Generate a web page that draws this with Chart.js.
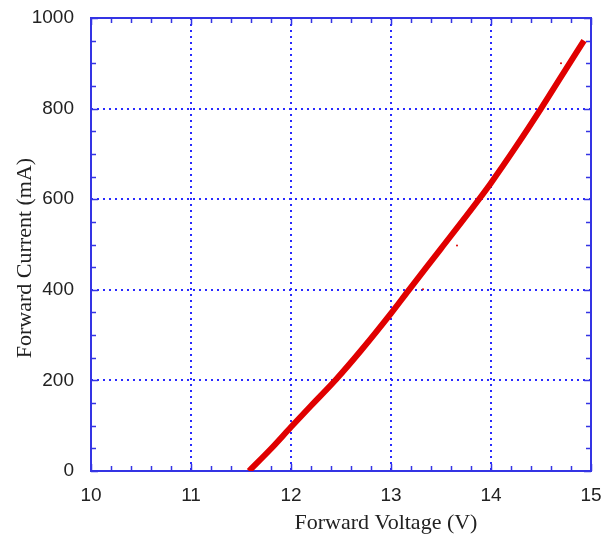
<!DOCTYPE html>
<html lang="en">
<head>
    <meta charset="UTF-8">
    <title>Forward Current vs Forward Voltage</title>
    <script src="https://cdn.jsdelivr.net/npm/chart.js"></script>
    <style>
        body { margin: 0; background: #fff; }
        canvas { display: block; }
    </style>
</head>
<body>
    <canvas id="ivChart" width="613" height="540"></canvas>

    <script>
        // values
        const voltage = [11.58, 11.8, 12.0, 12.2, 12.45, 12.7, 13.0, 13.18, 13.5, 13.88, 14.0, 14.25, 14.5, 14.7, 14.93];
        const current = [0, 49, 97, 144, 202, 266, 348, 400, 491, 600, 636, 716, 800, 870, 950];
        const strayVoltage = [13.32, 13.66, 14.70];
        const strayCurrent = [401, 498, 900];

        const xTitle = 'Forward Voltage (V)';
        const yTitle = 'Forward Current (mA)';

        const blue = '#3434e4';
        const gridBlue = '#2a2aff';
        const red = '#e00000';
        const textColor = '#222';

        // dotted grid, frame, inner minor/major ticks, axis titles
        const framePlugin = {
            id: 'frame',
            beforeDatasetsDraw(chart) {
                const ctx = chart.ctx;
                const a = chart.chartArea;
                const xs = chart.scales.x;
                const ys = chart.scales.y;
                ctx.save();

                ctx.strokeStyle = gridBlue;
                ctx.lineWidth = 2;
                ctx.setLineDash([2, 4]);
                xs.ticks.forEach(t => {
                    const px = Math.round(xs.getPixelForValue(t.value));
                    ctx.beginPath();
                    ctx.moveTo(px, a.top);
                    ctx.lineTo(px, a.bottom);
                    ctx.stroke();
                });
                ys.ticks.forEach(t => {
                    const py = Math.round(ys.getPixelForValue(t.value));
                    ctx.beginPath();
                    ctx.moveTo(a.left, py);
                    ctx.lineTo(a.right, py);
                    ctx.stroke();
                });
                ctx.setLineDash([]);

                ctx.strokeStyle = blue;
                ctx.lineWidth = 1.5;
                for (let v = 10; v <= 15.001; v += 0.2) {
                    const px = Math.round(xs.getPixelForValue(v)) + 0.5;
                    const len = Math.abs(v - Math.round(v)) < 0.01 ? 7 : 5;
                    ctx.beginPath();
                    ctx.moveTo(px, a.bottom); ctx.lineTo(px, a.bottom - len);
                    ctx.moveTo(px, a.top); ctx.lineTo(px, a.top + len);
                    ctx.stroke();
                }
                for (let v = 0; v <= 1000; v += 50) {
                    const py = Math.round(ys.getPixelForValue(v)) + 0.5;
                    const len = v % 200 === 0 ? 7 : 5;
                    ctx.beginPath();
                    ctx.moveTo(a.left, py); ctx.lineTo(a.left + len, py);
                    ctx.moveTo(a.right, py); ctx.lineTo(a.right - len, py);
                    ctx.stroke();
                }
                ctx.lineWidth = 2;
                ctx.strokeRect(a.left, a.top, a.right - a.left, a.bottom - a.top);

                ctx.fillStyle = textColor;
                ctx.font = '22px "Liberation Serif", serif';
                ctx.textAlign = 'center';
                ctx.textBaseline = 'alphabetic';
                ctx.fillText(xTitle, 386, 529);
                ctx.translate(31, 258);
                ctx.rotate(-Math.PI / 2);
                ctx.fillText(yTitle, 0, 0);
                ctx.restore();
            }
        };

        new Chart(document.getElementById('ivChart'), {
            type: 'line',
            data: {
                datasets: [{
                    data: voltage.map((v, i) => ({ x: v, y: current[i] })),
                    borderColor: red,
                    borderWidth: 6,
                    pointRadius: 0,
                    cubicInterpolationMode: 'monotone',
                    fill: false
                }, {
                    type: 'scatter',
                    data: strayVoltage.map((v, i) => ({ x: v, y: strayCurrent[i] })),
                    backgroundColor: red,
                    borderWidth: 0,
                    pointRadius: 1
                }]
            },
            options: {
                responsive: false,
                animation: false,
                layout: { padding: { top: 18, right: 22, left: 0, bottom: 0 } },
                plugins: {
                    legend: { display: false },
                    tooltip: { enabled: false }
                },
                scales: {
                    x: {
                        type: 'linear',
                        min: 10,
                        max: 15,
                        afterFit: s => { s.height = 69; s.paddingLeft = 0; s.paddingRight = 0; },
                        ticks: {
                            stepSize: 1,
                            padding: 13,
                            color: textColor,
                            font: { family: '"Liberation Sans", Arial, sans-serif', size: 19 },
                            callback: v => String(v)
                        },
                        grid: { display: false, drawTicks: false },
                        border: { display: false }
                    },
                    y: {
                        min: 0,
                        max: 1000,
                        afterFit: s => { s.width = 91; s.paddingTop = 0; s.paddingBottom = 0; },
                        ticks: {
                            stepSize: 200,
                            padding: 17,
                            color: textColor,
                            font: { family: '"Liberation Sans", Arial, sans-serif', size: 19 },
                            callback: v => String(v)
                        },
                        grid: { display: false, drawTicks: false },
                        border: { display: false }
                    }
                }
            },
            plugins: [framePlugin]
        });
    </script>
</body>
</html>
